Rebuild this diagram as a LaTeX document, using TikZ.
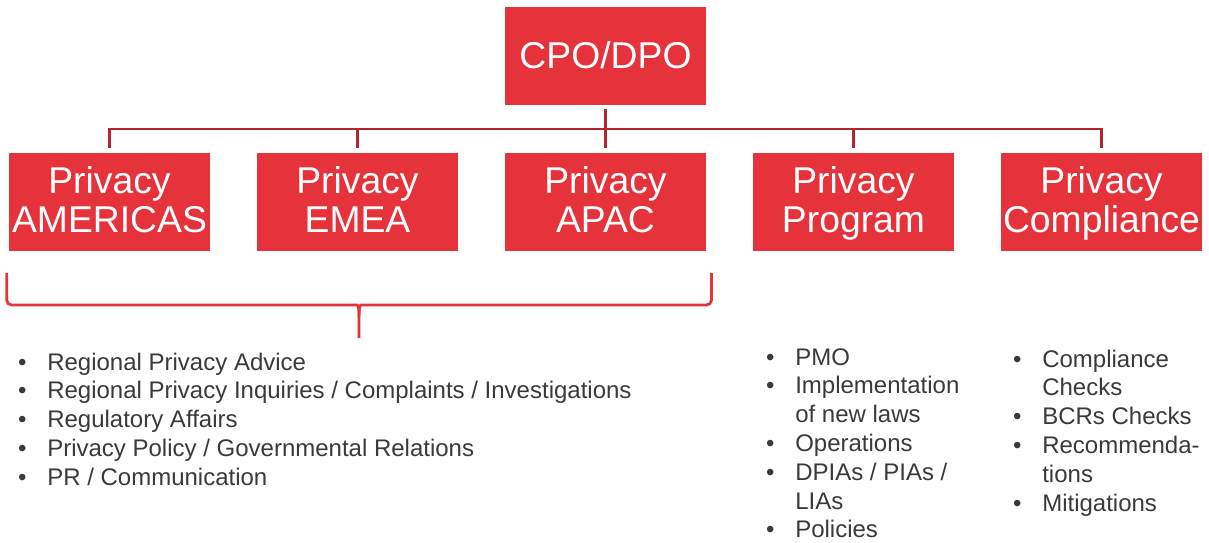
\documentclass[tikz,border=0pt]{standalone}
\usepackage{fontspec}
\setmainfont{Liberation Sans}
\definecolor{boxred}{HTML}{E5323B}
\definecolor{linkred}{HTML}{B5232E}
\definecolor{bracered}{HTML}{E6343D}
\definecolor{listgray}{HTML}{3A3A3A}
\newcommand\bul{\makebox[29.2pt][l]{\textbullet}}
\newcommand\cont{\hspace*{29.2pt}}
\begin{document}
\begin{tikzpicture}[x=1pt,y=-1pt,
  unit/.style={fill=boxred, text=white, minimum width=201pt, minimum height=98pt,
    inner sep=0pt, text width=201pt, align=center,
    font=\fontsize{37.3}{39.4}\selectfont},
  toprole/.style={unit, text height=26.6pt, text depth=1.4pt},
  subrole/.style={unit, text height=26.6pt, text depth=43pt},
  link/.style={draw=linkred, line width=2.8pt},
  bracket/.style={draw=bracered, line width=2.8pt, rounded corners=5pt},
  duties/.style={anchor=base west, inner sep=0pt, text=listgray,
    font=\fontsize{24}{28.8}\selectfont}
]
\useasboundingbox (0,0) rectangle (1209,542);

% head of the organisation
\node[toprole] (cpo) at (605.5,56) {CPO/DPO};

% second level units
\node[subrole] (amer) at (109.5,201.5) {Privacy\\AMERICAS};
\node[subrole] (emea) at (357.5,201.5) {Privacy\\EMEA};
\node[subrole] (apac) at (605.5,201.5) {Privacy\\APAC};
\node[subrole] (prog) at (853.5,201.5) {Privacy\\Program};
\node[subrole] (comp) at (1101.5,201.5) {Privacy\\Compliance};

% reporting lines
\coordinate (bus) at (605.5,129);
\draw[link] ([yshift=-4pt]cpo.south) -- ([yshift=4pt]apac.north);
\draw[link] ([yshift=4pt]amer.north) |- (bus) -| ([yshift=4pt]comp.north);
\draw[link] (emea.north |- bus) -- ([yshift=4pt]emea.north);
\draw[link] (prog.north |- bus) -- ([yshift=4pt]prog.north);

% brace grouping the three regional units
\coordinate (tip) at (359,338);
\draw[bracket] (6.7,273) -- (6.7,305) -- (352,305)
  .. controls (358,305) and (359,309) .. (359,317) -- (tip);
\draw[bracket] (359,317) .. controls (359,309) and (360,305) .. (366,305)
  -- (711.5,305) -- (711.5,273);

% responsibilities
\node[duties] (regional) at (17.9,370) {\begin{tabular}[t]{@{}l@{}}
\bul Regional Privacy Advice\\
\bul Regional Privacy Inquiries / Complaints / Investigations\\
\bul Regulatory Affairs\\
\bul Privacy Policy / Governmental Relations\\
\bul PR / Communication
\end{tabular}};

\node[duties] (program) at (765.9,365) {\begin{tabular}[t]{@{}l@{}}
\bul PMO\\
\bul Implementation\\
\cont of new laws\\
\bul Operations\\
\bul DPIAs / PIAs /\\
\cont LIAs\\
\bul Policies
\end{tabular}};

\node[duties] (compliance) at (1012.9,367) {\begin{tabular}[t]{@{}l@{}}
\bul Compliance\\
\cont Checks\\
\bul BCRs Checks\\
\bul Recommenda-\\
\cont tions\\
\bul Mitigations
\end{tabular}};
\end{tikzpicture}
\end{document}
